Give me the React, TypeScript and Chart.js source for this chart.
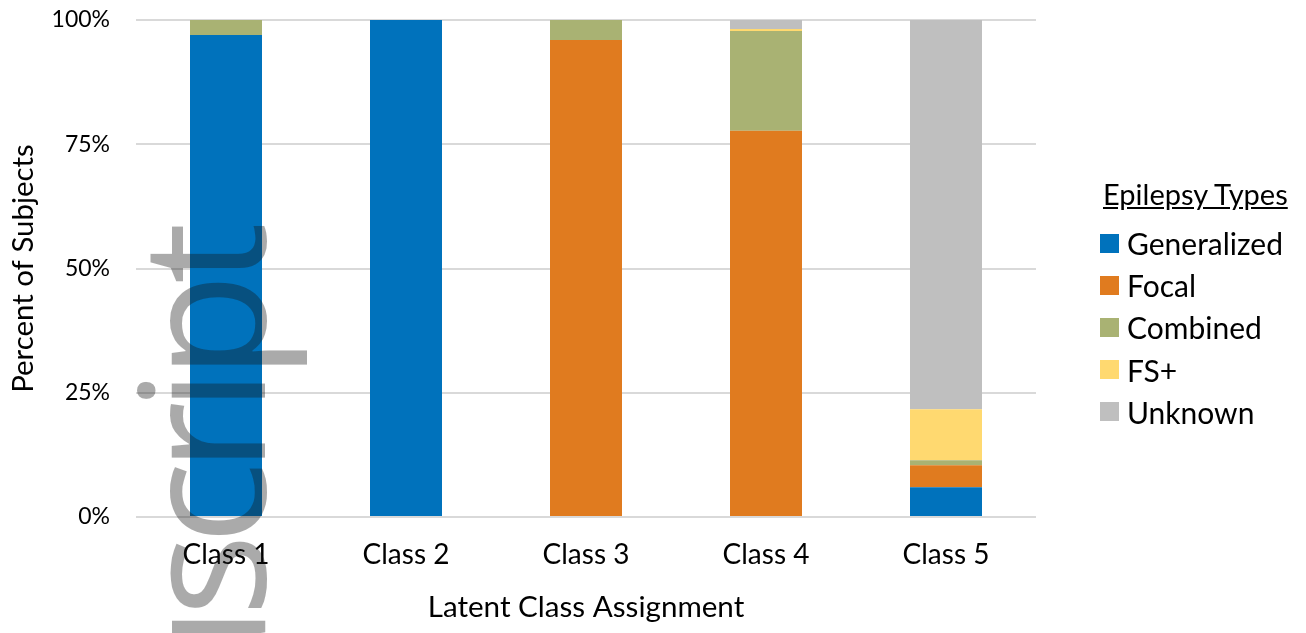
import React, { useEffect, useRef } from "react";
import { Chart, registerables } from "chart.js";

Chart.register(...registerables);

const categories = ["Class 1", "Class 2", "Class 3", "Class 4", "Class 5"];
const generalized = [97, 100, 0, 0, 6.0];
const focal = [0, 0, 96, 77.7, 4.4];
const combined = [3, 0, 4, 20.1, 1.0];
const fsPlus = [0, 0, 0, 0.4, 10.3];
const unknown = [0, 0, 0, 1.8, 78.3];
const seriesNames = ["Generalized", "Focal", "Combined", "FS+", "Unknown"];
const seriesColors = ["#0072BC", "#E07B1F", "#A9B273", "#FFD970", "#BFBFBF"];
const yTicks = [0, 25, 50, 75, 100];

const FONT = "Lato, 'Open Sans', sans-serif";

export default function App() {
  const ref = useRef<HTMLCanvasElement | null>(null);

  useEffect(() => {
    document.body.style.margin = "0";
    const ctx = ref.current!;
    const data = [generalized, focal, combined, fsPlus, unknown];
    const chart = new Chart(ctx, {
      type: "bar",
      data: {
        labels: categories,
        datasets: seriesNames.map((name, i) => ({
          label: name,
          data: data[i],
          backgroundColor: seriesColors[i],
          borderWidth: 0,
          categoryPercentage: 1,
          barPercentage: 0.4,
        })),
      },
      options: {
        animation: false,
        responsive: false,
        maintainAspectRatio: false,
        layout: { padding: { top: 20, right: 270, bottom: 0, left: 0 } },
        plugins: { legend: { display: false }, tooltip: { enabled: false } },
        scales: {
          x: {
            stacked: true,
            grid: { display: false, drawTicks: false },
            border: { display: false },
            ticks: { color: "#000", font: { family: FONT, size: 28 }, padding: 21 },
            title: {
              display: true,
              text: "Latent Class Assignment",
              color: "#000",
              font: { family: FONT, size: 29.6 },
              padding: { top: 0, bottom: 8 },
            },
            afterFit: (s: any) => {
              s.height = 116;
              s.paddingLeft = 0;
              s.paddingRight = 0;
            },
          },
          y: {
            stacked: true,
            min: 0,
            max: 100,
            afterBuildTicks: (s: any) => {
              s.ticks = yTicks.map((v) => ({ value: v }));
            },
            grid: { color: "#D9D9D9", lineWidth: 2, drawTicks: false },
            border: { display: false },
            ticks: {
              color: "#000",
              font: { family: FONT, size: 23 },
              padding: 26,
              callback: (v: any) => v + "%",
            },
            title: {
              display: true,
              text: "Percent of Subjects",
              color: "#000",
              font: { family: FONT, size: 29.4 },
              padding: { top: 6, bottom: 0 },
            },
            afterFit: (s: any) => {
              s.width = 136;
              s.paddingTop = 0;
              s.paddingBottom = 0;
            },
          },
        },
      },
    });
    return () => chart.destroy();
  }, []);

  return (
    <div style={{ position: "relative", width: 1306, height: 633, overflow: "hidden", background: "#fff" }}>
      <canvas ref={ref} width={1306} height={633} style={{ position: "absolute", left: 0, top: 0 }} />
      <div
        style={{
          position: "absolute",
          left: 1103,
          top: 176,
          fontFamily: FONT,
          fontSize: 29,
          color: "#000",
        }}
      >
        <div style={{ textDecoration: "underline", lineHeight: "36px", whiteSpace: "nowrap" }}>Epilepsy Types</div>
      </div>
      {seriesNames.map((name, i) => (
        <div
          key={name}
          style={{
            position: "absolute",
            left: 1100,
            top: 243 + i * 42.2 - 18,
            height: 36,
            display: "flex",
            alignItems: "center",
            fontFamily: FONT,
            fontSize: 30,
            whiteSpace: "nowrap",
          }}
        >
          <span style={{ display: "inline-block", width: 19, height: 19, background: seriesColors[i], marginRight: 8 }} />
          <span>{name}</span>
        </div>
      ))}
      <div
        style={{
          position: "absolute",
          left: 111,
          top: 1233,
          width: 1000,
          textAlign: "right",
          transform: "rotate(-90deg)",
          transformOrigin: "0 0",
          fontFamily: "'Open Sans', sans-serif",
          fontSize: 174,
          lineHeight: 1,
          letterSpacing: -11,
          whiteSpace: "nowrap",
          color: "rgba(20,20,20,0.36)",
          pointerEvents: "none",
        }}
      >
        Manuscript
      </div>
    </div>
  );
}
